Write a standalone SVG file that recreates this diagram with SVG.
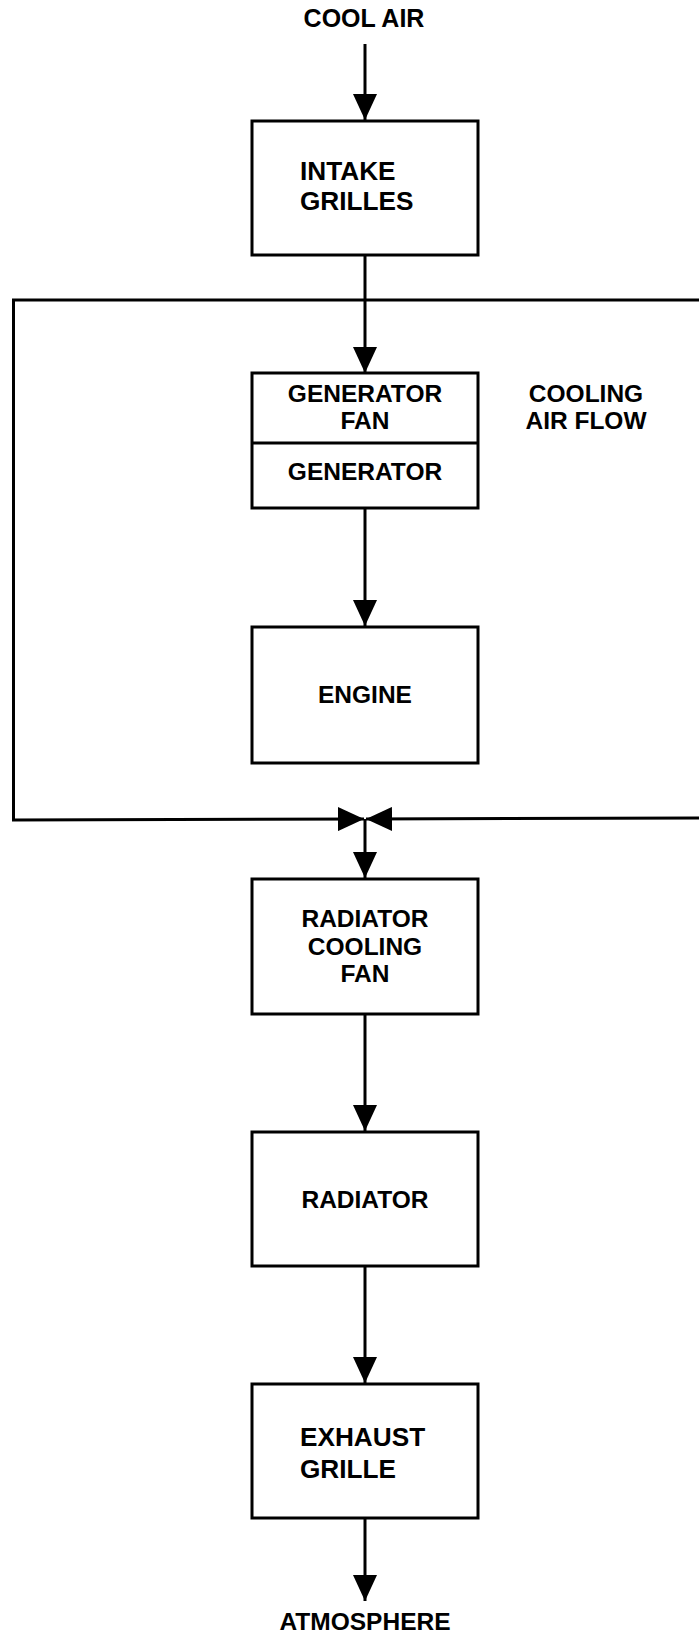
<svg xmlns="http://www.w3.org/2000/svg" width="699" height="1633" viewBox="0 0 699 1633">
  <style>
    .box { fill: #ffffff; stroke: #000000; stroke-width: 3; }
    .line { fill: none; stroke: #000000; stroke-width: 3; }
    .lbl { font-family: "Liberation Sans", Arial, sans-serif; font-weight: bold; font-size: 24.5px; fill: #000000; }
    .big { font-size: 26.2px; }
    .c { text-anchor: middle; }
  </style>
  <defs>
    <marker id="arrow" viewBox="0 0 26 24" refX="26" refY="12" markerWidth="26" markerHeight="24" markerUnits="userSpaceOnUse" orient="auto">
      <path d="M0,0 L26,12 L0,24 z" fill="#000000"/>
    </marker>
  </defs>
  <rect width="699" height="1633" fill="#ffffff"/>

  <g id="connectors">
    <path class="line" d="M365,44 L365,120" marker-end="url(#arrow)"/>
    <path class="line" d="M365,256 L365,373" marker-end="url(#arrow)"/>
    <path class="line" d="M365,509 L365,626" marker-end="url(#arrow)"/>
    <path class="line" d="M699,300 L13.5,300 L13.5,820 L364,819" marker-end="url(#arrow)"/>
    <path class="line" d="M699,818 L366,819" marker-end="url(#arrow)"/>
    <path class="line" d="M365,819 L365,878" marker-end="url(#arrow)"/>
    <path class="line" d="M365,1015 L365,1131" marker-end="url(#arrow)"/>
    <path class="line" d="M365,1267 L365,1383" marker-end="url(#arrow)"/>
    <path class="line" d="M365,1519 L365,1601" marker-end="url(#arrow)"/>
  </g>

  <g id="cool-air">
    <text class="lbl c" x="364" y="27" style="font-size:25px">COOL AIR</text>
  </g>

  <g id="intake-grilles">
    <rect class="box" x="252" y="121" width="226" height="134"/>
    <text class="lbl big" x="300" y="180">INTAKE</text>
    <text class="lbl big" x="300" y="210">GRILLES</text>
  </g>

  <g id="generator">
    <rect class="box" x="252" y="373" width="226" height="135"/>
    <line class="line" x1="252" y1="443" x2="478" y2="443"/>
    <text class="lbl c" x="365" y="402">GENERATOR</text>
    <text class="lbl c" x="365" y="429">FAN</text>
    <text class="lbl c" x="365" y="480">GENERATOR</text>
  </g>

  <g id="cooling-air-flow">
    <text class="lbl c" x="586" y="402">COOLING</text>
    <text class="lbl c" x="586" y="429">AIR FLOW</text>
  </g>

  <g id="engine">
    <rect class="box" x="252" y="627" width="226" height="136"/>
    <text class="lbl c" x="365" y="703">ENGINE</text>
  </g>

  <g id="radiator-cooling-fan">
    <rect class="box" x="252" y="879" width="226" height="135"/>
    <text class="lbl c" x="365" y="927">RADIATOR</text>
    <text class="lbl c" x="365" y="955">COOLING</text>
    <text class="lbl c" x="365" y="982">FAN</text>
  </g>

  <g id="radiator">
    <rect class="box" x="252" y="1132" width="226" height="134"/>
    <text class="lbl c" x="365" y="1208">RADIATOR</text>
  </g>

  <g id="exhaust-grille">
    <rect class="box" x="252" y="1384" width="226" height="134"/>
    <text class="lbl big" x="300" y="1446">EXHAUST</text>
    <text class="lbl big" x="300" y="1478">GRILLE</text>
  </g>

  <g id="atmosphere">
    <text class="lbl c" x="365" y="1630">ATMOSPHERE</text>
  </g>
</svg>
